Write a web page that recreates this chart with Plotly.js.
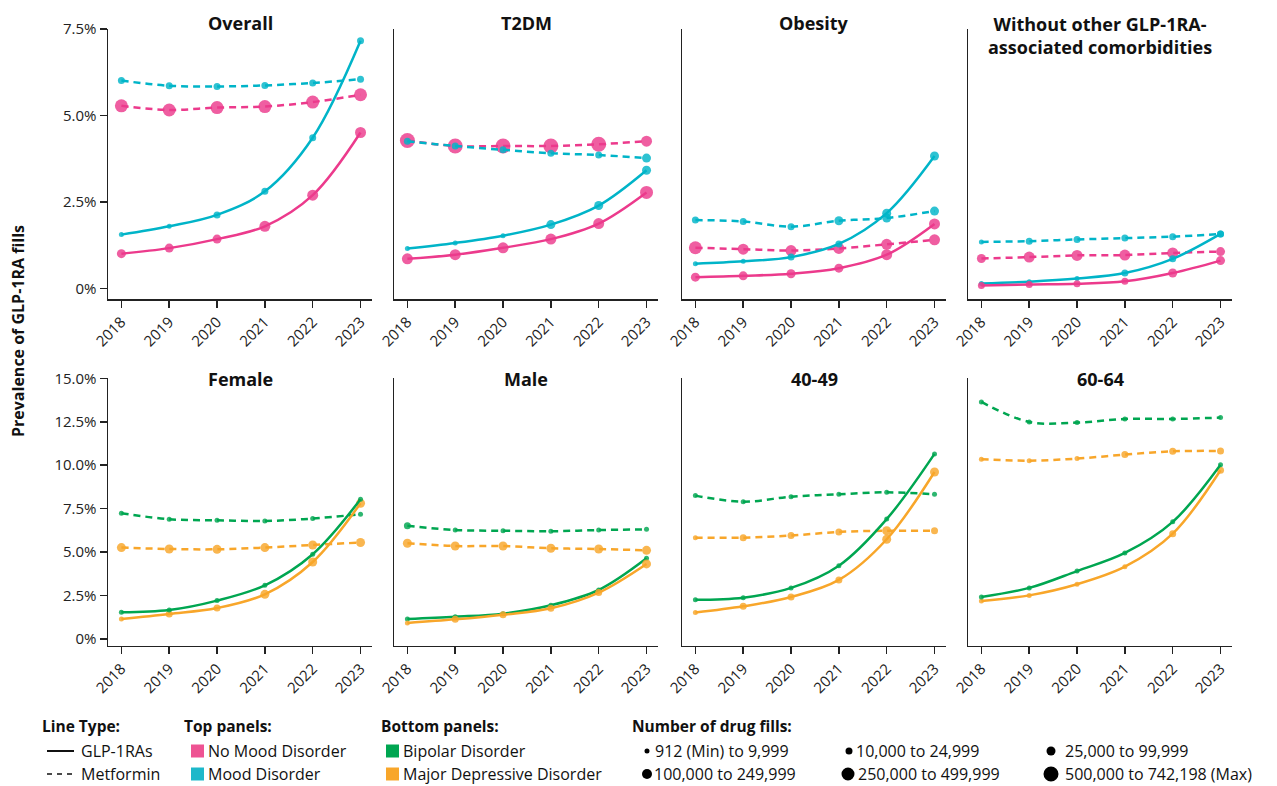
<!DOCTYPE html>
<html><head><meta charset="utf-8">
<script src="https://cdn.plot.ly/plotly-3.0.1.min.js"></script>
<style>html,body{margin:0;padding:0;background:#fff}</style>
</head><body><div id="chart" style="width:1277px;height:786px"></div>
<script>
// ---------------- DATA ----------------
const years = [2018, 2019, 2020, 2021, 2022, 2023];
const yearLabels = ["2018", "2019", "2020", "2021", "2022", "2023"];

const topTitles = ["Overall", "T2DM", "Obesity", "Without other GLP-1RA-<br>associated comorbidities"];
const bottomTitles = ["Female", "Male", "40-49", "60-64"];

const topTickVals = [0, 2.5, 5, 7.5];
const topTickText = ["0%", "2.5%", "5.0%", "7.5%"];
const bottomTickVals = [0, 2.5, 5, 7.5, 10, 12.5, 15];
const bottomTickText = ["0%", "2.5%", "5.0%", "7.5%", "10.0%", "12.5%", "15.0%"];

// Top panels: No Mood Disorder / Mood Disorder, GLP-1RAs / Metformin (% prevalence)
const overall_noMood_glp = [1.01, 1.17, 1.43, 1.80, 2.70, 4.51];
const overall_mood_glp   = [1.56, 1.80, 2.13, 2.81, 4.36, 7.16];
const overall_noMood_met = [5.28, 5.16, 5.23, 5.26, 5.39, 5.60];
const overall_mood_met   = [6.01, 5.86, 5.84, 5.87, 5.94, 6.05];

const t2dm_noMood_glp = [0.86, 0.98, 1.18, 1.43, 1.88, 2.78];
const t2dm_mood_glp   = [1.16, 1.32, 1.53, 1.85, 2.40, 3.42];
const t2dm_noMood_met = [4.28, 4.12, 4.12, 4.12, 4.17, 4.26];
const t2dm_mood_met   = [4.26, 4.12, 4.01, 3.91, 3.86, 3.77];

const obesity_noMood_glp = [0.33, 0.37, 0.43, 0.59, 0.98, 1.87];
const obesity_mood_glp   = [0.72, 0.79, 0.91, 1.29, 2.18, 3.83];
const obesity_noMood_met = [1.18, 1.14, 1.10, 1.16, 1.28, 1.41];
const obesity_mood_met   = [1.98, 1.94, 1.79, 1.96, 2.04, 2.24];

const without_noMood_glp = [0.09, 0.12, 0.14, 0.21, 0.45, 0.81];
const without_mood_glp   = [0.15, 0.20, 0.29, 0.45, 0.86, 1.58];
const without_noMood_met = [0.87, 0.91, 0.96, 0.97, 1.03, 1.07];
const without_mood_met   = [1.35, 1.37, 1.42, 1.46, 1.50, 1.58];

// Bottom panels: Bipolar Disorder / Major Depressive Disorder
const female_bip_glp = [1.54, 1.67, 2.21, 3.09, 4.88, 8.04];
const female_mdd_glp = [1.15, 1.44, 1.78, 2.57, 4.43, 7.81];
const female_bip_met = [7.24, 6.89, 6.83, 6.79, 6.93, 7.18];
const female_mdd_met = [5.26, 5.18, 5.16, 5.26, 5.41, 5.55];

const male_bip_glp = [1.15, 1.28, 1.46, 1.94, 2.82, 4.64];
const male_mdd_glp = [0.92, 1.13, 1.40, 1.77, 2.67, 4.32];
const male_bip_met = [6.52, 6.27, 6.23, 6.20, 6.27, 6.31];
const male_mdd_met = [5.51, 5.35, 5.35, 5.22, 5.18, 5.10];

const age4049_bip_glp = [2.26, 2.38, 2.94, 4.22, 6.90, 10.65];
const age4049_mdd_glp = [1.52, 1.88, 2.42, 3.40, 5.74, 9.61];
const age4049_bip_met = [8.25, 7.90, 8.19, 8.33, 8.44, 8.33];
const age4049_mdd_met = [5.83, 5.83, 5.95, 6.16, 6.23, 6.23];

const age6064_bip_glp = [2.42, 2.94, 3.91, 4.95, 6.74, 10.02];
const age6064_mdd_glp = [2.19, 2.51, 3.15, 4.16, 6.06, 9.71];
const age6064_bip_met = [13.64, 12.49, 12.45, 12.66, 12.66, 12.74];
const age6064_mdd_met = [10.34, 10.26, 10.38, 10.61, 10.80, 10.82];

// Number-of-drug-fills bins (1 = 912–9,999 ... 6 = 500,000–742,198)
const overall_noMood_glp_bin = [3, 3, 3, 4, 4, 4];
const overall_mood_glp_bin   = [1, 1, 2, 2, 2, 2];
const overall_noMood_met_bin = [5, 5, 5, 5, 5, 5];
const overall_mood_met_bin   = [2, 2, 2, 2, 2, 2];

const t2dm_noMood_glp_bin = [4, 4, 4, 4, 4, 5];
const t2dm_mood_glp_bin   = [1, 1, 1, 3, 3, 3];
const t2dm_noMood_met_bin = [6, 6, 6, 6, 6, 4];
const t2dm_mood_met_bin   = [2, 2, 2, 2, 2, 3];

const obesity_noMood_glp_bin = [3, 3, 3, 3, 4, 4];
const obesity_mood_glp_bin   = [1, 1, 2, 2, 3, 3];
const obesity_noMood_met_bin = [5, 4, 4, 4, 4, 4];
const obesity_mood_met_bin   = [2, 2, 2, 3, 3, 3];

const without_noMood_glp_bin = [2, 2, 2, 2, 3, 3];
const without_mood_glp_bin   = [1, 1, 1, 2, 2, 2];
const without_noMood_met_bin = [3, 4, 4, 4, 4, 3];
const without_mood_met_bin   = [1, 2, 2, 2, 2, 2];

const female_bip_glp_bin = [1, 1, 1, 1, 1, 1];
const female_mdd_glp_bin = [1, 2, 2, 3, 3, 3];
const female_bip_met_bin = [1, 1, 1, 1, 1, 1];
const female_mdd_met_bin = [3, 3, 3, 3, 3, 3];

const male_bip_glp_bin = [1, 1, 1, 1, 1, 1];
const male_mdd_glp_bin = [1, 2, 2, 2, 2, 3];
const male_bip_met_bin = [2, 1, 1, 1, 1, 1];
const male_mdd_met_bin = [3, 3, 3, 3, 3, 3];

const age4049_bip_glp_bin = [1, 1, 1, 1, 1, 1];
const age4049_mdd_glp_bin = [1, 2, 2, 2, 3, 3];
const age4049_bip_met_bin = [1, 1, 1, 1, 1, 1];
const age4049_mdd_met_bin = [1, 2, 2, 2, 3, 2];

const age6064_bip_glp_bin = [1, 1, 1, 1, 1, 1];
const age6064_mdd_glp_bin = [1, 1, 1, 1, 2, 2];
const age6064_bip_met_bin = [1, 1, 1, 1, 1, 1];
const age6064_mdd_met_bin = [1, 1, 1, 2, 2, 2];

// ---------------- STYLE ----------------
const W = 1277, H = 786;
const PINK = "#EC3A8C", CYAN = "#00B4C8", GREEN = "#00A651", ORANGE = "#F8A62A";
const binDiam = [0, 5, 7, 9, 11, 13, 15];
const FONT = "'Open Sans', Lato, sans-serif";
const px = x => x / W;
const py = y => 1 - y / H;

const panelLeft = [108, 394, 682, 968];
const panelWidth = 264;
const topY = [29, 299];      // pixel top, bottom of top row
const botY = [378.3, 645.7]; // pixel top, bottom of bottom row

const panels = [
  {title: topTitles[0], row: 0, col: 0, series: [
    [overall_mood_met, overall_mood_met_bin, CYAN, "met"],
    [overall_noMood_met, overall_noMood_met_bin, PINK, "met"],
    [overall_mood_glp, overall_mood_glp_bin, CYAN, "glp"],
    [overall_noMood_glp, overall_noMood_glp_bin, PINK, "glp"]]},
  {title: topTitles[1], row: 0, col: 1, series: [
    [t2dm_noMood_met, t2dm_noMood_met_bin, PINK, "met"],
    [t2dm_mood_met, t2dm_mood_met_bin, CYAN, "met"],
    [t2dm_mood_glp, t2dm_mood_glp_bin, CYAN, "glp"],
    [t2dm_noMood_glp, t2dm_noMood_glp_bin, PINK, "glp"]]},
  {title: topTitles[2], row: 0, col: 2, series: [
    [obesity_mood_met, obesity_mood_met_bin, CYAN, "met"],
    [obesity_noMood_met, obesity_noMood_met_bin, PINK, "met"],
    [obesity_mood_glp, obesity_mood_glp_bin, CYAN, "glp"],
    [obesity_noMood_glp, obesity_noMood_glp_bin, PINK, "glp"]]},
  {title: topTitles[3], row: 0, col: 3, series: [
    [without_mood_met, without_mood_met_bin, CYAN, "met"],
    [without_noMood_met, without_noMood_met_bin, PINK, "met"],
    [without_mood_glp, without_mood_glp_bin, CYAN, "glp"],
    [without_noMood_glp, without_noMood_glp_bin, PINK, "glp"]]},
  {title: bottomTitles[0], row: 1, col: 0, series: [
    [female_bip_met, female_bip_met_bin, GREEN, "met"],
    [female_mdd_met, female_mdd_met_bin, ORANGE, "met"],
    [female_mdd_glp, female_mdd_glp_bin, ORANGE, "glp"],
    [female_bip_glp, female_bip_glp_bin, GREEN, "glp"]]},
  {title: bottomTitles[1], row: 1, col: 1, series: [
    [male_bip_met, male_bip_met_bin, GREEN, "met"],
    [male_mdd_met, male_mdd_met_bin, ORANGE, "met"],
    [male_bip_glp, male_bip_glp_bin, GREEN, "glp"],
    [male_mdd_glp, male_mdd_glp_bin, ORANGE, "glp"]]},
  {title: bottomTitles[2], row: 1, col: 2, series: [
    [age4049_bip_met, age4049_bip_met_bin, GREEN, "met"],
    [age4049_mdd_met, age4049_mdd_met_bin, ORANGE, "met"],
    [age4049_mdd_glp, age4049_mdd_glp_bin, ORANGE, "glp"],
    [age4049_bip_glp, age4049_bip_glp_bin, GREEN, "glp"]]},
  {title: bottomTitles[3], row: 1, col: 3, series: [
    [age6064_bip_met, age6064_bip_met_bin, GREEN, "met"],
    [age6064_mdd_met, age6064_mdd_met_bin, ORANGE, "met"],
    [age6064_mdd_glp, age6064_mdd_glp_bin, ORANGE, "glp"],
    [age6064_bip_glp, age6064_bip_glp_bin, GREEN, "glp"]]}
];

const traces = [];
const layout = {
  width: W, height: H, autosize: false,
  margin: {l: 0, r: 0, t: 0, b: 0},
  paper_bgcolor: "#fff", plot_bgcolor: "rgba(0,0,0,0)",
  showlegend: false,
  font: {family: FONT, color: "#222", size: 15},
  annotations: [], shapes: []
};

panels.forEach((p, i) => {
  const n = i + 1;
  const xa = "xaxis" + (n === 1 ? "" : n), ya = "yaxis" + (n === 1 ? "" : n);
  const xr = "x" + (n === 1 ? "" : n), yr = "y" + (n === 1 ? "" : n);
  const left = panelLeft[p.col];
  const yy = p.row === 0 ? topY : botY;
  layout[xa] = {
    domain: [px(left), px(left + panelWidth)], anchor: yr,
    range: [2017.72, 2023.24], tickvals: years, ticktext: yearLabels,
    tickangle: -45, ticks: "outside", ticklen: 7, tickwidth: 1.5, tickcolor: "#222",
    showline: true, linecolor: "#222", linewidth: 1.5, showgrid: false, zeroline: false,
    tickfont: {family: FONT, size: 15, color: "#222"}, fixedrange: true
  };
  const first = p.col === 0;
  layout[ya] = {
    domain: [py(yy[1]), py(yy[0])], anchor: xr,
    range: p.row === 0 ? [-0.3, 7.5] : [-0.385, 15],
    tickvals: p.row === 0 ? topTickVals : bottomTickVals,
    ticktext: p.row === 0 ? topTickText : bottomTickText,
    ticks: first ? "outside" : "", ticklen: 7, tickwidth: 1.5, tickcolor: "#222",
    showticklabels: first, showline: true, linecolor: "#222", linewidth: 1.5,
    showgrid: false, zeroline: false, tickfont: {family: FONT, size: 15, color: "#222"},
    fixedrange: true
  };
  p.series.forEach(s => {
    const [vals, bins, color, kind] = s;
    traces.push({
      type: "scatter", mode: "lines", x: years, y: vals, xaxis: xr, yaxis: yr,
      line: {color: color, width: 2.5, shape: "spline", smoothing: 1,
             dash: kind === "met" ? "7px,5px" : "solid"},
      hoverinfo: "skip"
    });
    traces.push({
      type: "scatter", mode: "markers", x: years, y: vals, xaxis: xr, yaxis: yr,
      marker: {color: color, size: bins.map(b => binDiam[b]), opacity: 0.82, line: {width: 0}},
      hoverinfo: "skip"
    });
  });
  const isTwoLine = p.title.indexOf("<br>") >= 0;
  layout.annotations.push({
    xref: "paper", yref: "paper", x: px(left + panelWidth / 2),
    y: py(p.row === 0 ? (isTwoLine ? 35.5 : 23) : 379),
    text: "<b>" + p.title + "</b>", showarrow: false,
    xanchor: "center", yanchor: "middle",
    font: {family: FONT, size: 18, color: "#111"}
  });
});

// Y axis title
layout.annotations.push({
  xref: "paper", yref: "paper", x: px(18), y: py(331), textangle: -90,
  text: "<b>Prevalence of GLP-1RA fills</b>", showarrow: false,
  xanchor: "center", yanchor: "middle", font: {family: FONT, size: 16, color: "#111"}
});

// ---------------- LEGEND ----------------
function txt(x, y, t, bold, size) {
  layout.annotations.push({
    xref: "paper", yref: "paper", x: px(x), y: py(y), showarrow: false,
    xanchor: "left", yanchor: "middle", borderpad: 0, text: bold ? "<b>" + t + "</b>" : t,
    font: {family: FONT, size: size || (bold ? 15.5 : 16), color: "#111"}
  });
}
const r1 = 726, r2 = 751, r3 = 774;
txt(41, r1, "Line Type:", true);
layout.shapes.push({type: "line", xref: "paper", yref: "paper", x0: px(47), x1: px(74), y0: py(r2), y1: py(r2), line: {color: "#111", width: 2}});
layout.shapes.push({type: "line", xref: "paper", yref: "paper", x0: px(47), x1: px(74), y0: py(r3), y1: py(r3), line: {color: "#111", width: 1.5, dash: "5px,5px"}});
txt(80, r2, "GLP-1RAs");
txt(80, r3, "Metformin");

txt(183, r1, "Top panels:", true);
function sq(x, y, c) {
  layout.shapes.push({type: "rect", xref: "paper", yref: "paper", x0: px(x), x1: px(x + 13), y0: py(y + 6.5), y1: py(y - 6.5), fillcolor: c, line: {width: 0}});
}
sq(191, r2, "#EE5393"); sq(191, r3, "#1DB8CA");
txt(207, r2, "No Mood Disorder");
txt(207, r3, "Mood Disorder");

txt(380, r1, "Bottom panels:", true);
sq(386, r2, GREEN); sq(386, r3, ORANGE);
txt(402, r2, "Bipolar Disorder");
txt(402, r3, "Major Depressive Disorder");

txt(631, r1, "Number of drug fills:", true);
function dot(cx, cy, d) {
  layout.shapes.push({type: "circle", xref: "paper", yref: "paper", x0: px(cx - d / 2), x1: px(cx + d / 2), y0: py(cy + d / 2), y1: py(cy - d / 2), fillcolor: "#000", line: {width: 0}});
}
const fillLabels = ["912 (Min) to 9,999", "10,000 to 24,999", "25,000 to 99,999", "100,000 to 249,999", "250,000 to 499,999", "500,000 to 742,198 (Max)"];
dot(647, r2, 5);  txt(654, r2, fillLabels[0]);
dot(849, r2, 7);  txt(855, r2, fillLabels[1]);
dot(1051, r2, 9); txt(1064, r2, fillLabels[2]);
dot(647, r3, 10); txt(653, r3, fillLabels[3]);
dot(848, r3, 13); txt(857, r3, fillLabels[4]);
dot(1051, r3, 15); txt(1064, r3, fillLabels[5]);

Plotly.newPlot("chart", traces, layout, {staticPlot: true, displayModeBar: false});
</script></body></html>
